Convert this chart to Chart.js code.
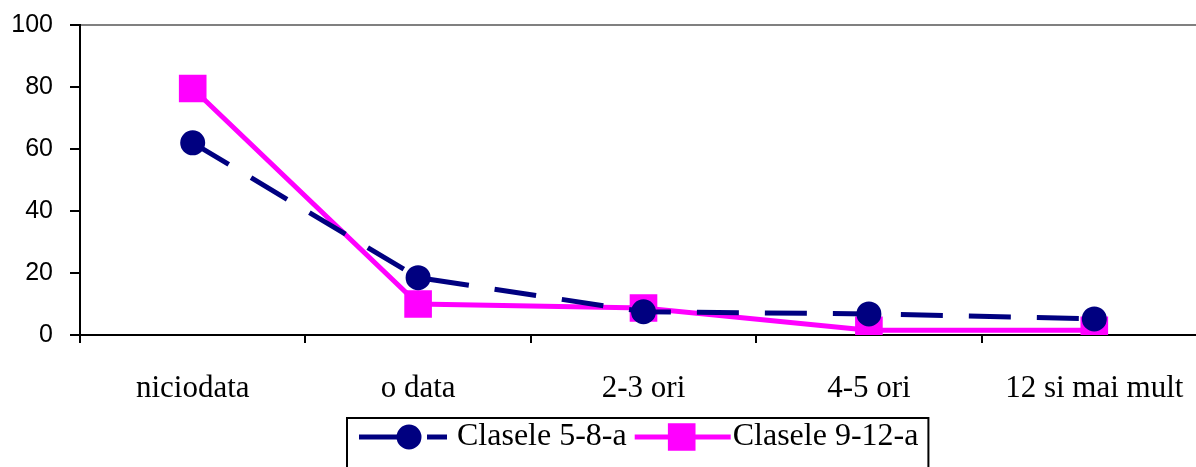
<!DOCTYPE html>
<html>
<head>
<meta charset="utf-8">
<script src="https://cdn.jsdelivr.net/npm/chart.js@4.4.0/dist/chart.umd.min.js"></script>
<style>
  body { margin: 0; overflow: hidden; background: #fff; }
  #frecventa { display: block; width: 1207px; height: 467px; }
</style>
</head>
<body>
<canvas id="frecventa" width="1207" height="467"></canvas>
<script>
const categories = ['niciodata', 'o data', '2-3 ori', '4-5 ori', '12 si mai mult'];
const clasele58 = [62, 18.5, 7.5, 6.8, 5.2];
const clasele912 = [79.5, 10, 8.7, 1.5, 1.5];
const yMin = 0, yMax = 100, yStep = 20;

const serif = '"Liberation Serif", "Times New Roman", serif';
const sans = '"Liberation Sans", Arial, sans-serif';

// legend drawn by hand: line + marker + label, in a box under the axis
const boxLegend = {
  id: 'boxLegend',
  afterDraw(chart) {
    const ctx = chart.ctx;
    const top = 418, midY = 437;
    let x = 359;
    ctx.save();
    ctx.font = '32px ' + serif;
    ctx.textBaseline = 'middle';
    chart.data.datasets.forEach((ds, i) => {
      const lineLen = i === 0 ? 88 : 96;
      ctx.strokeStyle = ds.borderColor;
      ctx.lineWidth = ds.borderWidth;
      ctx.setLineDash(ds.borderDash || []);
      ctx.beginPath();
      ctx.moveTo(x, midY);
      ctx.lineTo(x + lineLen, midY);
      ctx.stroke();
      ctx.setLineDash([]);
      ctx.fillStyle = ds.pointBackgroundColor;
      Chart.helpers.drawPoint(ctx, {
        pointStyle: ds.pointStyle, radius: ds.pointRadius, borderWidth: 1, rotation: 0
      }, x + (i === 0 ? 50 : 47), midY);
      ctx.fillStyle = '#000';
      const tx = x + lineLen + (i === 0 ? 10 : 2);
      ctx.fillText(ds.label, tx, midY);
      x = tx + ctx.measureText(ds.label).width + 8;
    });
    ctx.strokeStyle = '#000';
    ctx.lineWidth = 2;
    ctx.strokeRect(347, top, x + 2 - 347, 80);
    ctx.restore();
  }
};

new Chart(document.getElementById('frecventa').getContext('2d'), {
  type: 'line',
  data: {
    labels: categories,
    datasets: [
      {
        label: 'Clasele 5-8-a',
        data: clasele58,
        borderColor: '#000080',
        backgroundColor: '#000080',
        pointBackgroundColor: '#000080',
        pointBorderColor: '#000080',
        borderWidth: 5,
        borderDash: [42, 26],
        pointStyle: 'circle',
        pointRadius: 10,
        tension: 0,
      },
      {
        label: 'Clasele 9-12-a',
        data: clasele912,
        borderColor: '#ff00ff',
        backgroundColor: '#ff00ff',
        pointBackgroundColor: '#ff00ff',
        pointBorderColor: '#ff00ff',
        borderWidth: 5,
        pointStyle: 'rect',
        pointRadius: 16,
        tension: 0,
      },
    ],
  },
  options: {
    responsive: false,
    animation: false,
    layout: { autoPadding: false, padding: { top: 25, right: 0, bottom: 0, left: 0 } },
    plugins: { legend: { display: false }, tooltip: { enabled: false } },
    scales: {
      x: {
        offset: true,
        afterFit: (scale) => { scale.height = 132; scale.paddingLeft = 0; scale.paddingRight = 0; },
        grid: { offset: true, drawOnChartArea: false, color: '#000', tickLength: 8, lineWidth: 2 },
        border: { color: '#000', width: 2 },
        ticks: { color: '#000', font: { family: serif, size: 31 }, padding: 27, maxRotation: 0, autoSkip: false },
      },
      y: {
        min: yMin,
        max: yMax,
        afterFit: (scale) => { scale.width = 80; scale.paddingTop = 0; scale.paddingBottom = 0; },
        grid: {
          color: (c) => (c.tick && c.tick.value === yMax ? '#808080' : 'rgba(0,0,0,0)'),
          tickColor: '#000',
          tickLength: 10,
          lineWidth: 2,
        },
        border: { color: '#000', width: 2 },
        ticks: { stepSize: yStep, color: '#000', font: { family: sans, size: 25 }, padding: 17 },
      },
    },
  },
  plugins: [boxLegend],
});
</script>
</body>
</html>
